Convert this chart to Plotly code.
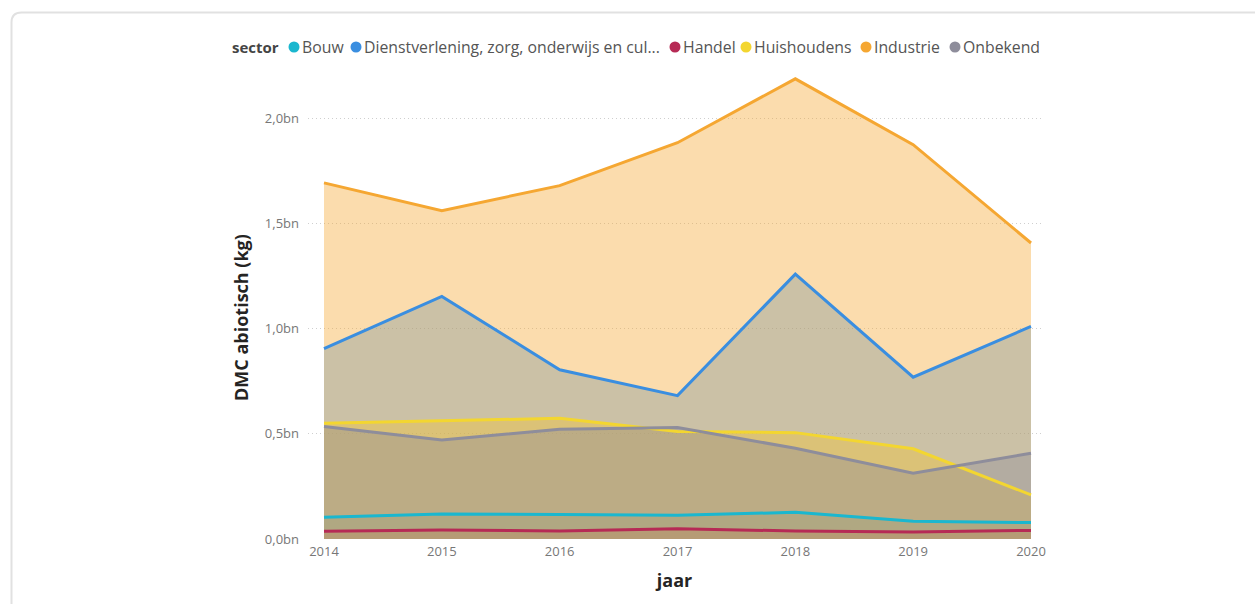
import plotly.graph_objects as go

# Yearly DMC abiotisch (kg) per sector, in billions of kg
years = [2014, 2015, 2016, 2017, 2018, 2019, 2020]

sectors = ["Bouw", "Dienstverlening, zorg, onderwijs en cul...", "Handel",
           "Huishoudens", "Industrie", "Onbekend"]

bouw = [0.103, 0.119, 0.116, 0.113, 0.127, 0.084, 0.078]
dienstverlening = [0.906, 1.154, 0.805, 0.682, 1.260, 0.770, 1.011]
handel = [0.037, 0.043, 0.038, 0.049, 0.038, 0.033, 0.041]
huishoudens = [0.551, 0.563, 0.574, 0.511, 0.506, 0.429, 0.210]
industrie = [1.694, 1.562, 1.681, 1.885, 2.189, 1.876, 1.408]
onbekend = [0.535, 0.471, 0.522, 0.530, 0.432, 0.313, 0.408]

series = [bouw, dienstverlening, handel, huishoudens, industrie, onbekend]

colors = ["#1AB7CF", "#3A8EE0", "#B62A55", "#F3D630", "#F5A732", "#8E8D9B"]

y_tickvals = [0.0, 0.5, 1.0, 1.5, 2.0]
y_ticktext = ["0,0bn", "0,5bn", "1,0bn", "1,5bn", "2,0bn"]

FONT = "Open Sans, Segoe UI, sans-serif"

W, H = 1255, 604
ML, MR, MT, MB = 308, 214, 66, 65
PW, PH = W - ML - MR, H - MT - MB
PX_PER_YEAR = (1031 - 324) / 6.0

# Legend layout (pixel positions of each round marker along the top row)
LEGEND_Y = 47
LEGEND_TITLE_X = 230
legend_marker_x = [294, 356, 675, 746, 866, 955]


def hex_rgba(h, a):
    h = h.lstrip("#")
    r, g, b = int(h[0:2], 16), int(h[2:4], 16), int(h[4:6], 16)
    return f"rgba({r},{g},{b},{a})"


def px_x(p):
    return (p - ML) / PW


def px_y(p):
    return (H - MB - p) / PH


fig = go.Figure()

# Overlapping translucent areas, each filled down to zero
for name, vals, c in zip(sectors, series, colors):
    fig.add_trace(go.Scatter(
        x=years, y=vals, mode="lines", line=dict(width=0, color=c),
        fill="tozeroy", fillcolor=hex_rgba(c, 0.4),
        showlegend=False, hoverinfo="skip",
    ))

# Series lines drawn above all areas
for name, vals, c in zip(sectors, series, colors):
    fig.add_trace(go.Scatter(
        x=years, y=vals, mode="lines", name=name,
        line=dict(width=3, color=c), showlegend=False,
    ))

# Compact legend: bold title, then a dot and a label per sector
fig.add_annotation(
    xref="paper", yref="paper", x=px_x(LEGEND_TITLE_X), y=px_y(LEGEND_Y),
    xanchor="left", yanchor="middle", showarrow=False,
    text="<b>sector</b>", font=dict(size=15, color="#444444"),
)
for name, c, mx in zip(sectors, colors, legend_marker_x):
    fig.add_shape(
        type="circle", xref="paper", yref="paper",
        xsizemode="pixel", ysizemode="pixel",
        xanchor=px_x(mx), yanchor=px_y(LEGEND_Y),
        x0=-5.5, x1=5.5, y0=-5.5, y1=5.5,
        fillcolor=c, line=dict(width=0),
    )
    fig.add_annotation(
        xref="paper", yref="paper", x=px_x(mx + 6), y=px_y(LEGEND_Y),
        xanchor="left", yanchor="middle", showarrow=False,
        text=name, font=dict(size=15.8, color="#555555"),
    )

# Vertical axis title
fig.add_annotation(
    xref="paper", yref="paper", x=px_x(241), y=px_y(318),
    xanchor="center", yanchor="middle", showarrow=False, textangle=-90,
    text="<b>DMC abiotisch (kg)</b>", font=dict(size=18, color="#252423"),
)

# Card outline with rounded top-left corner
x0, y0 = px_x(11.5), px_y(12.5)
xr, yb = px_x(1262), px_y(612)
rx, ry = 10 / PW, 10 / PH
fig.add_shape(
    type="path", xref="paper", yref="paper",
    path=(f"M {x0},{yb} L {x0},{y0 - ry} Q {x0},{y0} {x0 + rx},{y0} "
          f"L {xr},{y0}"),
    line=dict(color="#E1E1E1", width=2), layer="below",
)

pad_l = (324 - ML) / PX_PER_YEAR
pad_r = (W - MR - 1031) / PX_PER_YEAR

fig.update_layout(
    width=W, height=H,
    margin=dict(l=ML, r=MR, t=MT, b=MB, pad=0),
    paper_bgcolor="white", plot_bgcolor="white",
    font=dict(family=FONT, color="#605E5C"),
    showlegend=False,
    xaxis=dict(
        range=[years[0] - pad_l, years[-1] + pad_r],
        tickvals=years, ticktext=[str(y) for y in years],
        showgrid=False, zeroline=False, showline=False,
        tickfont=dict(size=13, color="#777777"),
        ticks="", ticklabelstandoff=3,
        title=dict(text="<b>jaar</b>", font=dict(size=18, color="#252423"),
                   standoff=15),
    ),
    yaxis=dict(
        range=[0, 2.25],
        tickvals=y_tickvals, ticktext=y_ticktext,
        showgrid=True, gridcolor="#CFCFCF", griddash="1px,3px", gridwidth=1,
        zeroline=False, showline=False,
        tickfont=dict(size=13, color="#777777"),
        ticks="", ticklabelstandoff=8,
    ),
)

fig.write_html("out.html")
